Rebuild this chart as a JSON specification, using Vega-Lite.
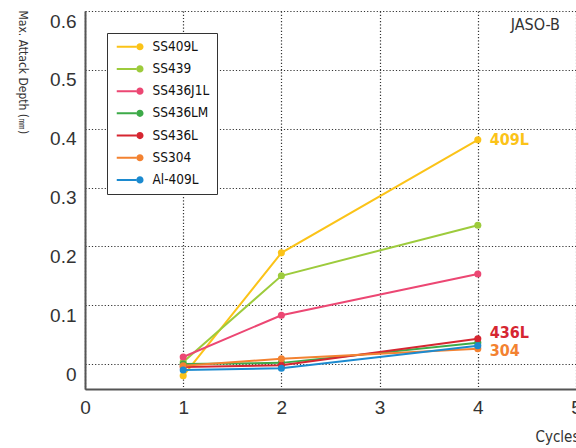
{
  "$schema": "https://vega.github.io/schema/vega-lite/v6.json",
  "autosize": "none",
  "padding": {"left": 85, "top": 11, "right": 0, "bottom": 59},
  "width": 491,
  "height": 378,
  "background": "white",
  "config": {
    "font": "Liberation Sans",
    "view": {"stroke": null},
    "axis": {
      "grid": true,
      "gridDash": [1.2, 2],
      "gridColor": "#333",
      "gridWidth": 1.2,
      "ticks": false,
      "domain": true,
      "domainColor": "#555",
      "domainWidth": 2,
      "labelFont": "Liberation Sans",
      "labelFontSize": 19,
      "labelColor": "#333",
      "labelOverlap": false,
      "labelBound": false,
      "titleFont": "DejaVu Sans Condensed, Roboto, sans-serif",
      "titleFontWeight": "normal",
      "titleColor": "#333"
    }
  },
  "datasets": {
    "series": [
      {"series": "SS409L", "cycles": 1, "depth": -0.02},
      {"series": "SS409L", "cycles": 2, "depth": 0.189},
      {"series": "SS409L", "cycles": 4, "depth": 0.381},
      {"series": "SS439", "cycles": 1, "depth": 0.0035},
      {"series": "SS439", "cycles": 2, "depth": 0.15},
      {"series": "SS439", "cycles": 4, "depth": 0.236},
      {"series": "SS436J1L", "cycles": 1, "depth": 0.012},
      {"series": "SS436J1L", "cycles": 2, "depth": 0.083},
      {"series": "SS436J1L", "cycles": 4, "depth": 0.153},
      {"series": "SS436LM", "cycles": 1, "depth": 0.0},
      {"series": "SS436LM", "cycles": 2, "depth": 0.002},
      {"series": "SS436LM", "cycles": 4, "depth": 0.036},
      {"series": "SS436L", "cycles": 1, "depth": -0.005},
      {"series": "SS436L", "cycles": 2, "depth": -0.002},
      {"series": "SS436L", "cycles": 4, "depth": 0.043},
      {"series": "SS304", "cycles": 1, "depth": -0.003},
      {"series": "SS304", "cycles": 2, "depth": 0.009},
      {"series": "SS304", "cycles": 4, "depth": 0.026},
      {"series": "Al-409L", "cycles": 1, "depth": -0.01},
      {"series": "Al-409L", "cycles": 2, "depth": -0.007},
      {"series": "Al-409L", "cycles": 4, "depth": 0.031}
    ],
    "labels": [
      {"series": "SS409L", "label": "409L", "cycles": 4, "depth": 0.381},
      {"series": "SS436L", "label": "436L", "cycles": 4, "depth": 0.052},
      {"series": "SS304", "label": "304", "cycles": 4, "depth": 0.023}
    ],
    "notes": [
      {"note": "JASO-B", "cycles": 4.837, "depth": 0.568}
    ]
  },
  "encoding": {
    "x": {
      "field": "cycles",
      "type": "quantitative",
      "scale": {"domain": [0, 5], "nice": false, "zero": false},
      "axis": {
        "values": [0, 1, 2, 3, 4, 5],
        "format": "d",
        "labelFlush": false,
        "labelPadding": 9,
        "title": "Cycles",
        "titleFontSize": 15,
        "titleX": 450,
        "titleY": 52,
        "titleAlign": "left",
        "titleBaseline": "alphabetic"
      }
    },
    "y": {
      "field": "depth",
      "type": "quantitative",
      "scale": {"domain": [-0.0424, 0.6], "nice": false, "zero": false},
      "axis": {
        "values": [0, 0.1, 0.2, 0.3, 0.4, 0.5, 0.6],
        "format": ".1~f",
        "labelPadding": 9,
        "labelOffset": 10,
        "labelBaseline": "middle",
        "title": "Max. Attack Depth (㎜)",
        "titleFontSize": 12,
        "titleAngle": 90,
        "titleX": -67,
        "titleY": -1,
        "titleAlign": "left",
        "titleBaseline": "alphabetic"
      }
    }
  },
  "layer": [
    {
      "mark": {"type": "rule", "color": "#555", "strokeWidth": 2},
      "encoding": {"y": {"datum": 0.6}, "x": null}
    },
    {
      "data": {"name": "series"},
      "mark": {"type": "line", "strokeWidth": 2},
      "encoding": {
        "color": {
          "field": "series",
          "type": "nominal",
          "scale": {
            "domain": ["SS409L", "SS439", "SS436J1L", "SS436LM", "SS436L", "SS304", "Al-409L"],
            "range": ["#FBC318", "#9DCB3C", "#EC4773", "#3DAA48", "#D62631", "#F38231", "#1C8ACF"]
          }
        }
      }
    },
    {
      "data": {"name": "series"},
      "mark": {"type": "point", "filled": true, "size": 50, "opacity": 1},
      "encoding": {
        "color": {
          "field": "series",
          "type": "nominal",
          "legend": {
            "orient": "none",
            "legendX": 22,
            "legendY": 22,
            "title": null,
            "symbolType": "M-0.667,-0.167L2.6,-0.167L2.6,0.167L-0.667,0.167Z M2.6,0A0.6,0.6 0 1,0 3.8,0A0.6,0.6 0 1,0 2.6,0Z",
            "symbolSize": 144,
            "symbolStrokeWidth": 0,
            "labelFont": "DejaVu Sans Condensed, Roboto, sans-serif",
            "labelFontSize": 13.5,
            "labelColor": "#111",
            "labelOffset": 25,
            "rowPadding": 7.2,
            "padding": 7,
            "strokeColor": "#333",
            "fillColor": "white"
          }
        }
      }
    },
    {
      "data": {"name": "labels"},
      "mark": {"type": "text", "align": "left", "baseline": "middle", "dx": 12, "font": "DejaVu Sans Condensed, Roboto, sans-serif", "fontWeight": "bold", "fontSize": 16},
      "encoding": {
        "text": {"field": "label"},
        "color": {"field": "series", "type": "nominal"}
      }
    },
    {
      "data": {"name": "notes"},
      "mark": {"type": "text", "align": "right", "baseline": "alphabetic", "font": "DejaVu Sans Condensed, Roboto, sans-serif", "fontSize": 16, "color": "#333"},
      "encoding": {
        "text": {"field": "note"}
      }
    }
  ]
}
